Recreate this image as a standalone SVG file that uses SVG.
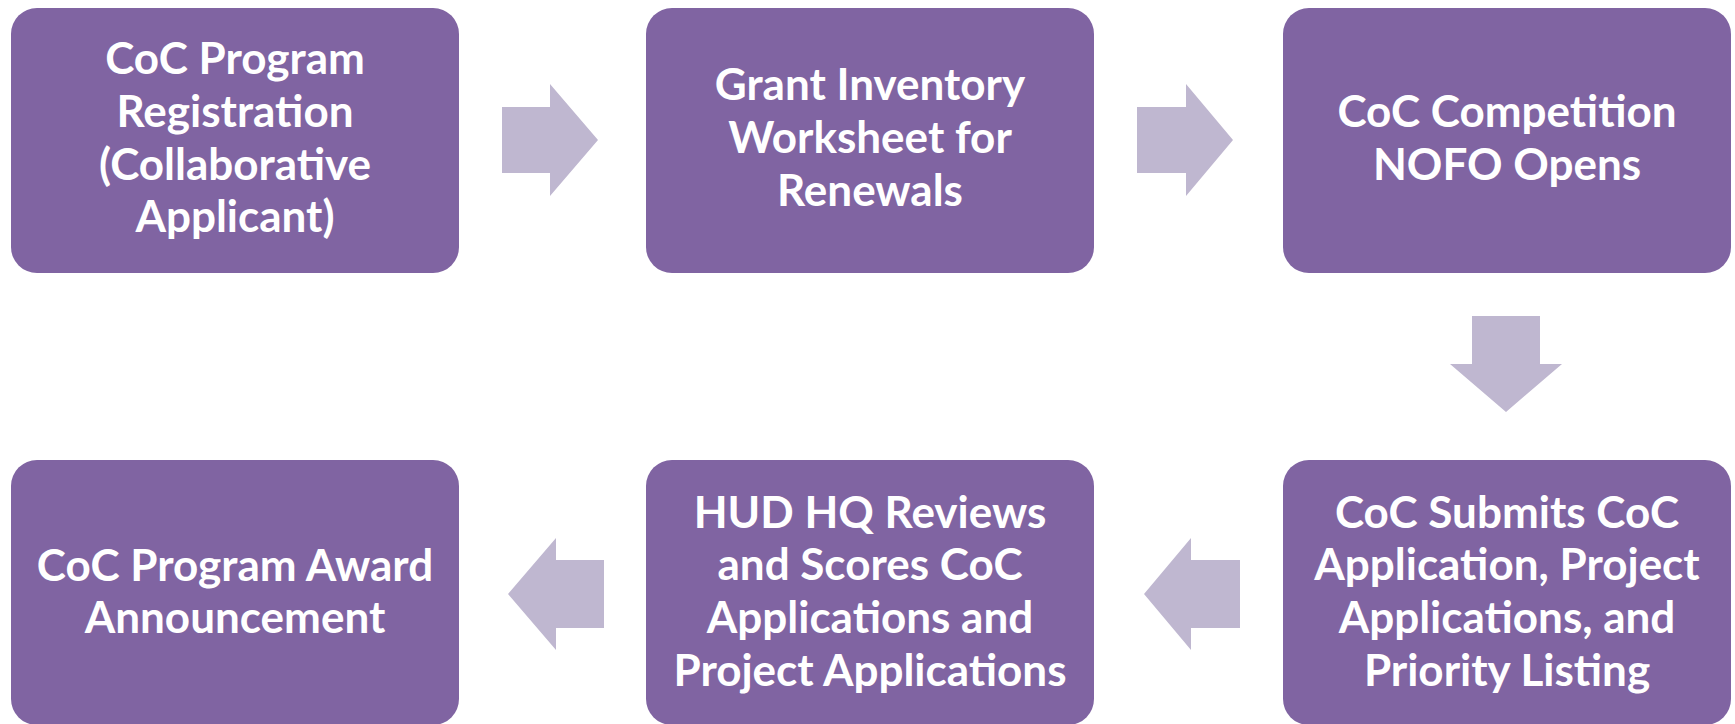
<svg xmlns="http://www.w3.org/2000/svg" width="1735" height="724" viewBox="0 0 1735 724">
<style>
.box{fill:#8064A2;}
.arr{fill:#BFB7D0;}
.t{font-family:Lato,"Liberation Sans",sans-serif;font-weight:bold;font-size:44px;fill:#FFFFFF;text-anchor:middle;}
</style>
<rect width="1735" height="724" fill="#FFFFFF"/>
<g id="connectors">
<polygon class="arr" points="502,107 550,107 550,84 598,140 550,196 550,173 502,173"/>
<polygon class="arr" points="1137,107 1186,107 1186,84 1233,140 1186,196 1186,173 1137,173"/>
<polygon class="arr" points="1472,316 1540,316 1540,364 1562,364 1506,412 1450,364 1472,364"/>
<polygon class="arr" points="1240,560 1191,560 1191,538 1144,594 1191,650 1191,628 1240,628"/>
<polygon class="arr" points="604,560 556,560 556,538 508,594 556,650 556,628 604,628"/>
</g>
<g id="node1">
<rect class="box" x="11" y="8" width="448" height="265" rx="26" ry="26"/>
<text class="t" x="235" y="74">CoC Program</text>
<text class="t" x="235" y="127">Registration</text>
<text class="t" x="235" y="180">(Collaborative</text>
<text class="t" x="235" y="232">Applicant)</text>
</g>
<g id="node2">
<rect class="box" x="646" y="8" width="448" height="265" rx="26" ry="26"/>
<text class="t" x="870" y="100">Grant Inventory</text>
<text class="t" x="870" y="153">Worksheet for</text>
<text class="t" x="870" y="206">Renewals</text>
</g>
<g id="node3">
<rect class="box" x="1283" y="8" width="448" height="265" rx="26" ry="26"/>
<text class="t" x="1507" y="127">CoC Competition</text>
<text class="t" x="1507" y="180">NOFO Opens</text>
</g>
<g id="node4">
<rect class="box" x="1283" y="460" width="448" height="265" rx="26" ry="26"/>
<text class="t" x="1507" y="528">CoC Submits CoC</text>
<text class="t" x="1507" y="580">Application, Project</text>
<text class="t" x="1507" y="633">Applications, and</text>
<text class="t" x="1507" y="686">Priority Listing</text>
</g>
<g id="node5">
<rect class="box" x="646" y="460" width="448" height="265" rx="26" ry="26"/>
<text class="t" x="870" y="528">HUD HQ Reviews</text>
<text class="t" x="870" y="580">and Scores CoC</text>
<text class="t" x="870" y="633">Applications and</text>
<text class="t" x="870" y="686">Project Applications</text>
</g>
<g id="node6">
<rect class="box" x="11" y="460" width="448" height="265" rx="26" ry="26"/>
<text class="t" x="235" y="581">CoC Program Award</text>
<text class="t" x="235" y="633">Announcement</text>
</g>
</svg>
